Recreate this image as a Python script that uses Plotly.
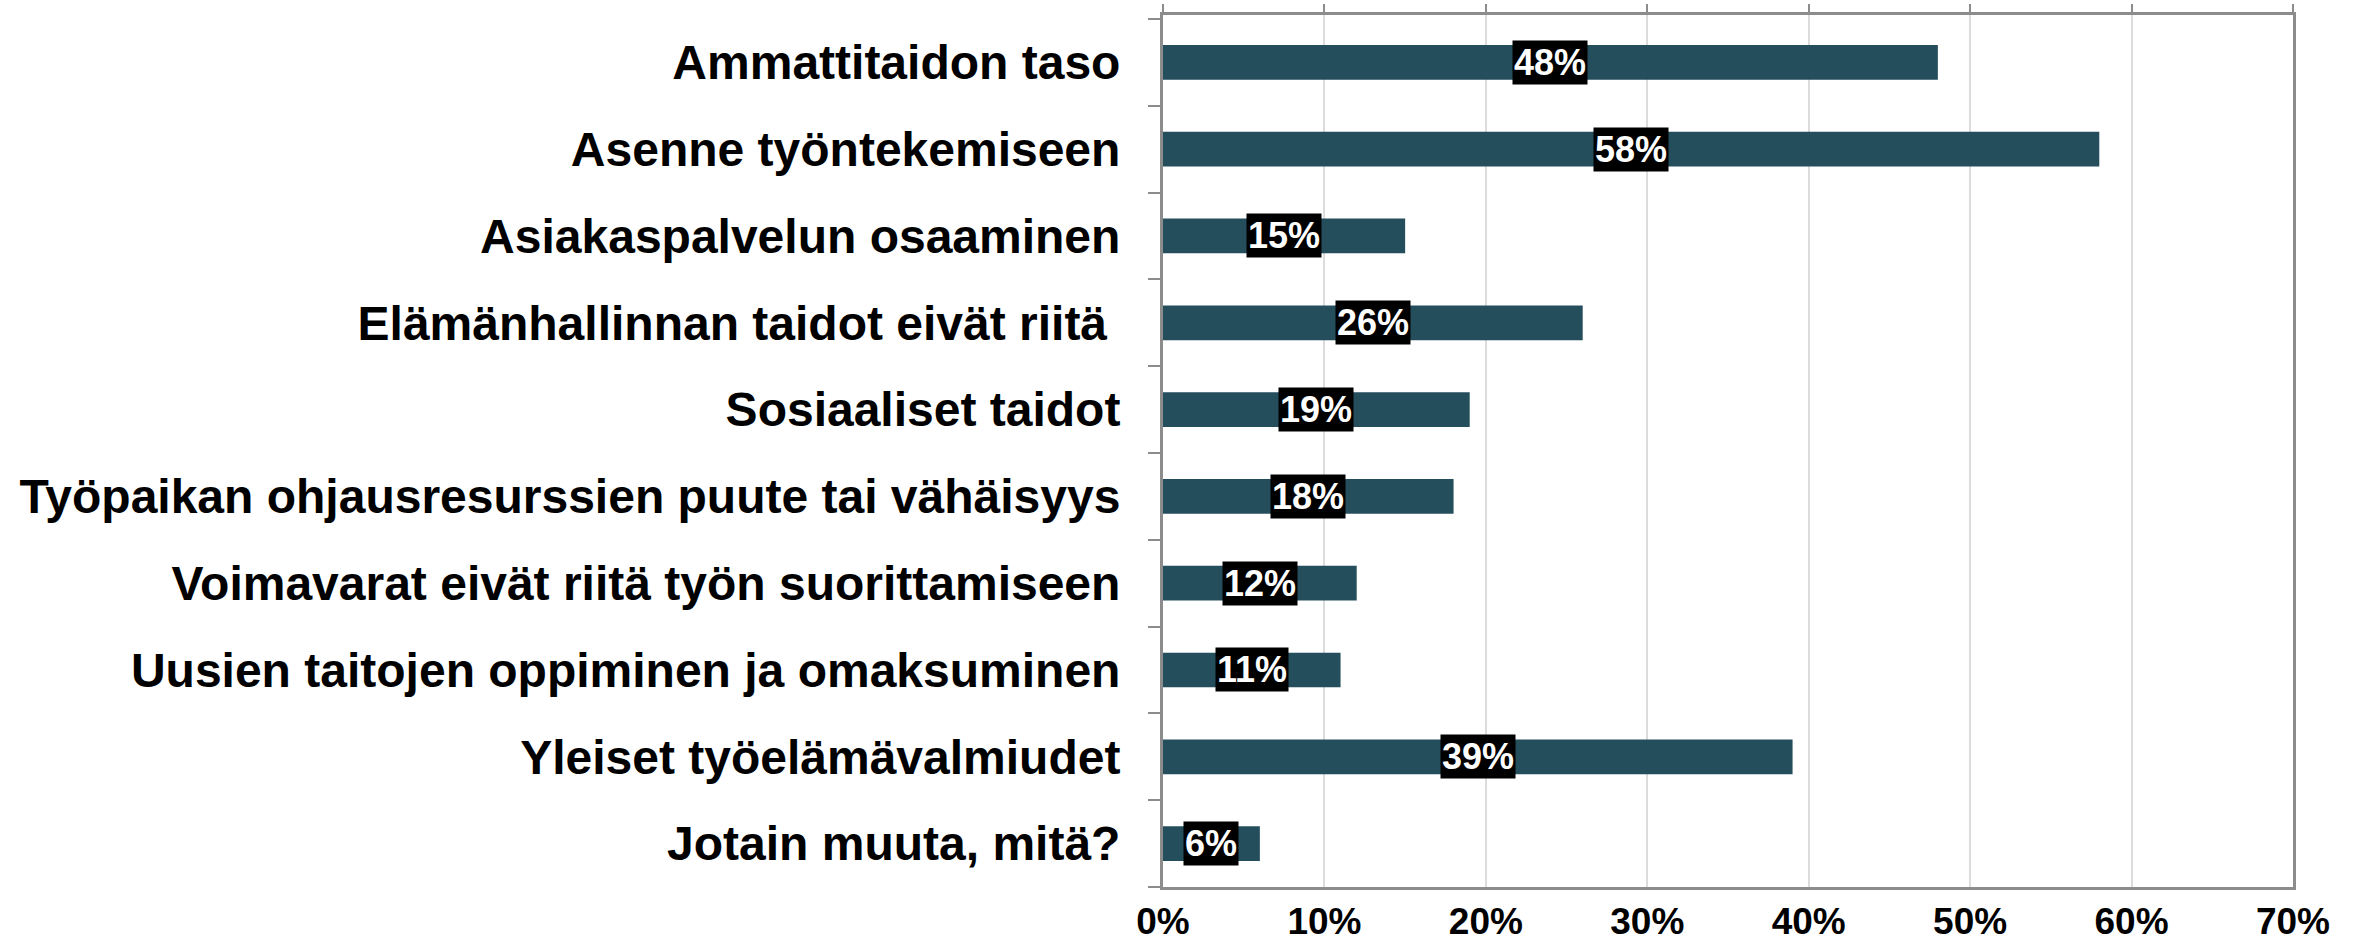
import plotly.graph_objects as go

categories = [
    "Ammattitaidon taso",
    "Asenne työntekemiseen",
    "Asiakaspalvelun osaaminen",
    "Elämänhallinnan taidot eivät riitä ",
    "Sosiaaliset taidot",
    "Työpaikan ohjausresurssien puute tai vähäisyys",
    "Voimavarat eivät riitä työn suorittamiseen",
    "Uusien taitojen oppiminen ja omaksuminen",
    "Yleiset työelämävalmiudet",
    "Jotain muuta, mitä?",
]
values = [48, 58, 15, 26, 19, 18, 12, 11, 39, 6]
x_ticks = [0, 10, 20, 30, 40, 50, 60, 70]
x_tick_labels = ["0%", "10%", "20%", "30%", "40%", "50%", "60%", "70%"]

BAR = "#244E5C"
AXIS = "#8C8C8C"
GRID = "#DCDCDC"
FONT = "Liberation Sans, Arial, sans-serif"
NARROW = "Liberation Sans Narrow, Arial Narrow, Liberation Sans, Arial, sans-serif"

fig = go.Figure()
fig.add_trace(go.Bar(
    x=values, y=categories, orientation="h",
    marker=dict(color=BAR, line=dict(width=0)),
    hoverinfo="skip", showlegend=False,
))
# invisible trace so the top axis (tick marks only) is drawn
fig.add_trace(go.Scatter(
    x=[0], y=[categories[0]], xaxis="x2", mode="markers",
    marker=dict(opacity=0), hoverinfo="skip", showlegend=False,
))

# value labels: white bold text on black boxes centred on each bar
for cat, v in zip(categories, values):
    fig.add_annotation(
        x=v / 2, y=cat, xref="x", yref="y",
        text=f"<b>{v}%</b>", showarrow=False,
        font=dict(family=NARROW, size=36, color="white"),
        bgcolor="black", borderpad=1,
    )

fig.update_layout(
    width=2357, height=946,
    margin=dict(l=1163, r=64, t=15, b=59),
    paper_bgcolor="white", plot_bgcolor="white",
    bargap=0.6,
    xaxis=dict(
        range=[0, 70], tickvals=x_ticks, ticktext=[f"<b>{t}</b>" for t in x_tick_labels],
        showgrid=True, gridcolor=GRID, gridwidth=2,
        showline=True, linecolor=AXIS, linewidth=3, mirror=True,
        ticks="", ticklabelstandoff=0, automargin=False,
        tickfont=dict(family=FONT, size=37, color="black"),
        zeroline=False,
    ),
    xaxis2=dict(
        range=[0, 70], tickvals=x_ticks, overlaying="x", side="top",
        showticklabels=False, showgrid=False, zeroline=False,
        ticks="outside", ticklen=10, tickwidth=2, tickcolor=AXIS,
        showline=False, automargin=False,
    ),
    yaxis=dict(
        type="category", autorange="reversed",
        categoryorder="array", categoryarray=categories,
        ticktext=[f"<b>{c}</b>" for c in categories], tickvals=categories,
        showline=True, linecolor=AXIS, linewidth=3, mirror=True,
        ticks="outside", tickson="boundaries", ticklen=12, tickwidth=2, tickcolor=AXIS,
        ticklabelstandoff=30, automargin=False,
        tickfont=dict(family=FONT, size=48, color="black"),
        showgrid=False, zeroline=False,
    ),
)

fig.write_html("out.html")
